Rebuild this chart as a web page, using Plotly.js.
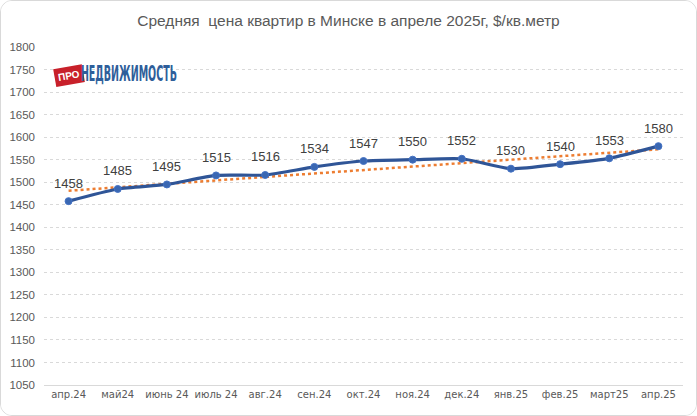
<!DOCTYPE html>
<html><head><meta charset="utf-8">
<script src="https://cdn.plot.ly/plotly-3.0.1.min.js"></script>
<style>
html,body{margin:0;padding:0;background:#fff;}
#chart{width:697px;height:416px;box-sizing:border-box;border:1px solid #d9d9d9;border-radius:12px;overflow:hidden;}
</style></head><body>
<div id="chart"></div>
<script>
const categories = ['апр.24','май24','июнь 24','июль 24','авг.24','сен.24','окт.24','ноя.24','дек.24','янв.25','фев.25','март25','апр.25'];
const prices = [1458,1485,1495,1515,1516,1534,1547,1550,1552,1530,1540,1553,1580];
const trendCategories = ['апр.24','апр.25'];
const trendValues = [1481,1573];
const yTicks = [1050,1100,1150,1200,1250,1300,1350,1400,1450,1500,1550,1600,1650,1700,1750,1800];

const traces = [
  {
    x: trendCategories, y: trendValues, type: 'scatter', mode: 'lines',
    line: {color: '#ED7D31', width: 2.5, dash: 'dot'}, hoverinfo: 'skip', showlegend: false
  },
  {
    x: categories, y: prices, type: 'scatter', mode: 'lines+markers',
    line: {color: '#2F5597', width: 3.2, shape: 'spline', smoothing: 0.6},
    marker: {color: '#3A67B2', size: 7, line: {color: '#4472C4', width: 1}},
    cliponaxis: false, showlegend: false
  }
];

const W = 697, H = 416, L = 43, R = 13, T = 46, B = 30;
const px = v => (v - L) / (W - L - R);
const py = v => (H - B - v) / (H - T - B);

const labelAnnotations = categories.map((c, i) => ({
  x: c, y: prices[i], xref: 'x', yref: 'y', text: String(prices[i]), showarrow: false,
  xanchor: 'center', yanchor: 'middle', yshift: 18,
  font: {family: 'Liberation Sans, Arial, sans-serif', size: 13, color: '#404040'}
}));

const layout = {
  width: W - 2, height: H - 2,
  margin: {l: L, r: R, t: T, b: B, pad: 0},
  paper_bgcolor: '#fff', plot_bgcolor: '#fff',
  title: {text: 'Средняя  цена квартир в Минске в апреле 2025г, $/кв.метр',
    font: {family: 'Liberation Sans, Arial, sans-serif', size: 15.5, color: '#595959'},
    x: 0.5, xanchor: 'center', y: 0.953, yanchor: 'middle'},
  xaxis: {
    type: 'category', categoryorder: 'array', categoryarray: categories,
    range: [-0.5, categories.length - 0.5],
    showgrid: false, zeroline: false, showline: true, linecolor: '#d9d9d9', linewidth: 1,
    ticks: '', tickfont: {family: 'DejaVu Sans, sans-serif', size: 10, color: '#595959'},
    fixedrange: true
  },
  yaxis: {
    range: [1050, 1800], tickvals: yTicks, ticktext: yTicks.map(String),
    showgrid: true, gridcolor: '#d9d9d9', griddash: 'dot', gridwidth: 1,
    zeroline: false, showline: false, ticks: '',
    tickfont: {family: 'Liberation Sans, Arial, sans-serif', size: 11.5, color: '#595959'},
    ticklabelstandoff: 8, fixedrange: true
  },
  annotations: labelAnnotations.concat([
    {xref: 'paper', yref: 'paper', x: px(68.5), y: py(74.5), xanchor: 'center', yanchor: 'middle',
     text: 'ПРО', showarrow: false, textangle: -10, bgcolor: '#C8202A', borderpad: 3,
     font: {family: 'Liberation Sans, sans-serif', size: 10, weight: 700, color: '#fff'}},
    {xref: 'paper', yref: 'paper', x: px(128), y: py(72.5), xanchor: 'center', yanchor: 'middle',
     text: 'НЕДВИЖИМОСТЬ', showarrow: false,
     font: {family: 'DejaVu Sans Condensed, DejaVu Sans, sans-serif', size: 22, weight: 700, color: '#2E5E9A'}}
  ])
};

Plotly.newPlot('chart', traces, layout, {displayModeBar: false, staticPlot: true}).then(gd => {
  gd.querySelectorAll('.annotation-text').forEach(t => {
    if (t.textContent === 'НЕДВИЖИМОСТЬ') {
      t.setAttribute('textLength', '96');
      t.setAttribute('lengthAdjust', 'spacingAndGlyphs');
    }
  });
});
</script>
</body></html>
